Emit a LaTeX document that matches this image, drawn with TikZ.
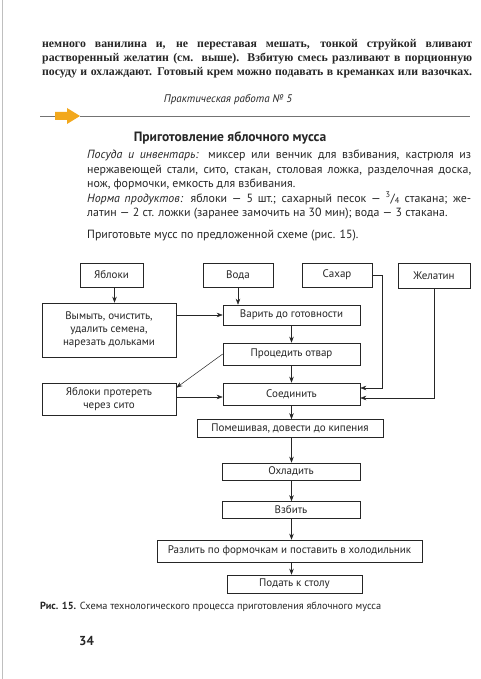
\documentclass[tikz,border=0pt]{standalone}
\usepackage{fontspec}
\setmainfont{Liberation Serif}
\newfontfamily\ptsans{PT Sans}
\usetikzlibrary{calc,arrows.meta}
\definecolor{ink}{HTML}{262626}
\definecolor{orangearr}{HTML}{F2A81D}
\begin{document}
\begin{tikzpicture}[x=1pt,y=-1pt,
  box/.style={draw=ink, line width=0.6pt, fill=white, inner sep=1pt, align=center,
    font=\ptsans\fontsize{11}{13}\selectfont, text=ink},
  arr/.style={draw=ink, line width=0.5pt, -{Stealth[length=6pt,width=4.5pt]}},
  ln/.style={draw=ink, line width=0.5pt},
  txt/.style={inner sep=0pt, text=ink}]
\useasboundingbox (0,0) rectangle (481,679);
\fill[white] (0,0) rectangle (481,679);
\draw[black!25, line width=0.8pt] (2,0) -- (2,679);

% top serif paragraph
\node[txt, anchor=north west, text width=430pt, align=justify,
  font=\fontsize{11.8}{14}\selectfont\bfseries] (para0) at (42,39)
  {немного ванилина и, не переставая мешать, тонкой струйкой вливают\linebreak
   растворенный желатин (см. выше). Взбитую смесь разливают в порционную\linebreak
   посуду и охлаждают. Готовый крем можно подавать в креманках или вазочках.\linebreak};

% heading
\node[txt, font=\ptsans\itshape\fontsize{11}{13}\selectfont] (pract) at (228,100) {Практическая работа №~5};
\coordinate (rl) at (40,116);
\coordinate (rr) at (470,116);
\draw[black!55, line width=0.6pt] (rl) -- (55,116);
\draw[black!55, line width=0.6pt] (80,116) -- (rr);
\fill[orangearr] (55,112) -- (67,112) -- (67,108) -- (80,116) -- (67,124) -- (67,120) -- (55,120) -- cycle;
\node[txt, font=\ptsans\bfseries\fontsize{13.5}{15}\selectfont] (title) at (230,138) {Приготовление яблочного мусса};

% sans paragraph
\node[txt, anchor=north west, text width=384pt, align=justify,
  font=\ptsans\fontsize{11.9}{14.4}\selectfont] (para1) at (87,150)
  {\textit{Посуда и инвентарь:} миксер или венчик для взбивания, кастрюля из\linebreak
   нержавеющей стали, сито, стакан, столовая ложка, разделочная доска,\linebreak
   нож, формочки, емкость для взбивания.\\
   \textit{Норма продуктов:} яблоки — 5 шт.; сахарный песок — \textsuperscript{3}/\textsubscript{4} стакана; же-\linebreak
   латин — 2 ст. ложки (заранее замочить на 30 мин); вода — 3 стакана.\\[8pt]
   Приготовьте мусс по предложенной схеме (рис. 15).};

% boxes
\node[box, minimum width=63pt, minimum height=24pt] (yab) at (111.5,275) {Яблоки};
\node[box, minimum width=70pt, minimum height=24pt] (voda) at (238,275) {Вода};
\node[box, minimum width=70pt, minimum height=24pt] (sahar) at (337,275) {Сахар};
\node[box, minimum width=72pt, minimum height=25pt] (zhel) at (434,275.5) {Желатин};
\node[box, minimum width=134pt, minimum height=54pt] (vym) at (109,330) {Вымыть, очистить,\\удалить семена,\\нарезать дольками};
\node[box, minimum width=137pt, minimum height=20pt] (var) at (291.5,315) {Варить до готовности};
\node[box, minimum width=137pt, minimum height=22pt] (proc) at (291.5,354) {Процедить отвар};
\node[box, minimum width=134pt, minimum height=32pt] (prot) at (109,399) {Яблоки протереть\\через сито};
\node[box, minimum width=137pt, minimum height=22pt] (soed) at (291.5,394) {Соединить};
\node[box, minimum width=186pt, minimum height=18pt] (pom) at (290,428.5) {Помешивая, довести до кипения};
\node[box, minimum width=138pt, minimum height=17pt] (ohl) at (291,471.5) {Охладить};
\node[box, minimum width=138pt, minimum height=17pt] (vzb) at (291,510) {Взбить};
\node[box, minimum width=265pt, minimum height=22pt] (razl) at (289.5,551) {Разлить по формочкам и поставить в холодильник};
\node[box, minimum width=135pt, minimum height=18pt] (pod) at (294.5,584) {Подать к столу};

% connectors
\draw[arr] ($(yab.south)+(3,0)$) -- ($(yab.south |- vym.north)+(3,0)$);
\draw[arr] (voda.south) -- (voda.south |- var.north);
\draw[arr] (vym.east |- var) -- (var.west);
\draw[arr] (var.south) -- (proc.north);
\draw[arr] (proc.west) -- ($(prot.north east)+(0,5)$);
\draw[arr] (proc.south) -- (soed.north);
\draw[arr] ($(prot.east)+(0,-2)$) -- ($(prot.east -| soed.west)+(0,-2)$);
\draw[arr] (sahar.east) -- ++(10,0) |- ($(soed.east)+(0,-6)$);
\draw[arr] (zhel.south) |- ($(soed.east)+(0,4)$);
\draw[arr] (soed.south) -- (soed.south |- pom.north);
\draw[arr] (soed.south |- pom.south) -- (soed.south |- ohl.north);
\draw[arr] (soed.south |- ohl.south) -- (soed.south |- vzb.north);
\draw[arr] (soed.south |- vzb.south) -- (soed.south |- razl.north);
\draw[arr] (soed.south |- razl.south) -- (soed.south |- pod.north);

% caption and page number
\node[txt, anchor=west, font=\ptsans\fontsize{10.3}{12}\selectfont] (cap) at (40,607)
  {\textbf{Рис. 15.} Схема технологического процесса приготовления яблочного мусса};
\node[txt, anchor=west, font=\ptsans\bfseries\fontsize{13}{15}\selectfont] (pnum) at (79,641) {34};
\end{tikzpicture}
\end{document}
